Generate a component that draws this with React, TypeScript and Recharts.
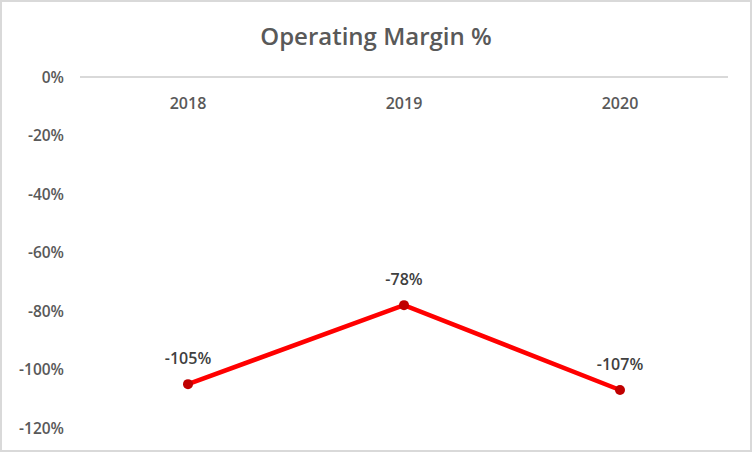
import { LineChart, Line, XAxis, YAxis, ReferenceLine, LabelList } from "recharts";

// Operating margin by fiscal year, in percent
const years = ["2018", "2019", "2020"];
const margins = [-105, -78, -107];
const yTicks = [0, -20, -40, -60, -80, -100, -120];

const data = years.map((year, i) => ({ year, margin: margins[i] }));

const FONT = "'Open Sans', sans-serif";

function YearTick({ x, y, payload }: { x: number; y: number; payload: { value: string } }) {
  // Excel puts the category labels just under the zero line
  return (
    <text x={x} y={y + 32} textAnchor="middle" fill="#595959" fontSize={16} fontWeight={600} fontFamily={FONT}>
      {payload.value}
    </text>
  );
}

export default function App() {
  return (
    <div
      style={{
        position: "absolute",
        left: 0,
        top: 0,
        width: 752,
        height: 452,
        boxSizing: "border-box",
        border: "2px solid #d9d9d9",
        background: "#fff",
        fontFamily: FONT,
      }}
    >
      <div
        style={{
          position: "absolute",
          top: 17,
          left: 0,
          width: "100%",
          textAlign: "center",
          fontSize: 24,
          fontWeight: 600,
          color: "#595959",
        }}
      >
        Operating Margin %
      </div>
      <LineChart
        width={748}
        height={448}
        data={data}
        margin={{ top: 55, right: 22, bottom: 22, left: 0 }}
        style={{ position: "absolute", left: 0, top: 0 }}
      >
        <XAxis
          dataKey="year"
          orientation="top"
          scale="band"
          height={20}
          axisLine={false}
          tickLine={false}
          tickSize={0}
          tickMargin={0}
          tick={YearTick as any}
        />
        <YAxis
          domain={[-120, 0]}
          ticks={yTicks}
          width={78}
          axisLine={false}
          tickLine={false}
          tickSize={0}
          tickMargin={16}
          tickFormatter={(v: number) => `${v}%`}
          tick={{ fill: "#595959", fontSize: 15.5, fontWeight: 600, fontFamily: FONT }}
        />
        <ReferenceLine y={0} stroke="#d9d9d9" strokeWidth={2} />
        <Line
          dataKey="margin"
          stroke="#ff0000"
          strokeWidth={4.5}
          dot={{ r: 5, fill: "#c00000", stroke: "#c00000", strokeWidth: 0 }}
          activeDot={false}
          isAnimationActive={false}
        >
          <LabelList
            dataKey="margin"
            position="top"
            offset={20}
            formatter={(v: number) => `${v}%`}
            fill="#404040"
            fontSize={16}
            fontWeight={600}
            fontFamily={FONT}
          />
        </Line>
      </LineChart>
    </div>
  );
}
